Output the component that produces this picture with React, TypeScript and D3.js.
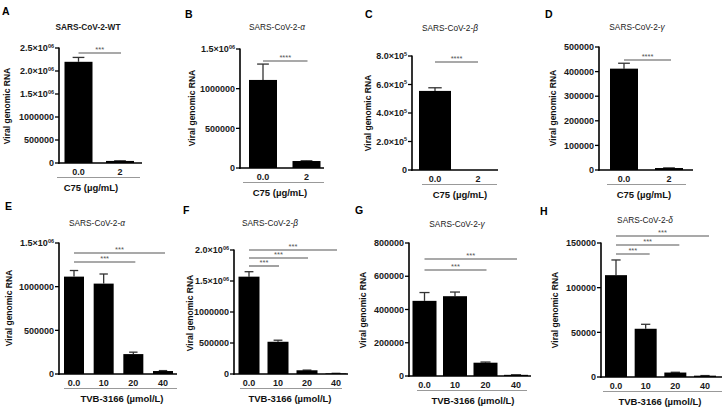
import React from "react";
import * as d3 from "d3";

// ---------- DATA ----------
const catsC75 = ["0.0", "2"];
const catsTVB = ["0.0", "10", "20", "40"];

const wtC75Mean = [2200000, 45000];
const wtC75Err = [95000, 3000];
const alphaC75Mean = [1110000, 88000];
const alphaC75Err = [200000, 3000];
const betaC75Mean = [555000, 0];
const betaC75Err = [22000, 0];
const gammaC75Mean = [412000, 8000];
const gammaC75Err = [22000, 600];

const alphaTVBMean = [1115000, 1035000, 228000, 34000];
const alphaTVBErr = [70000, 110000, 22000, 5000];
const betaTVBMean = [1570000, 520000, 60000, 10000];
const betaTVBErr = [80000, 25000, 3000, 1000];
const gammaTVBMean = [452000, 480000, 80000, 7000];
const gammaTVBErr = [50000, 25000, 4000, 500];
const deltaTVBMean = [114000, 54000, 5000, 1500];
const deltaTVBErr = [17000, 5000, 300, 100];

const ticksA = [0, 500000, 1000000, 1500000, 2000000, 2500000];
const labelsA = ["0", "500000", "1000000", "1.5×10^06", "2.0×10^06", "2.5×10^06"];
const ticksB = [0, 500000, 1000000, 1500000];
const labelsB = ["0", "500000", "1000000", "1.5×10^06"];
const ticksC = [0, 200000, 400000, 600000, 800000];
const labelsC = ["0", "2.0×10^5", "4.0×10^5", "6.0×10^5", "8.0×10^5"];
const ticksD = [0, 100000, 200000, 300000, 400000, 500000];
const labelsD = ["0", "100000", "200000", "300000", "400000", "500000"];
const ticksE = [0, 500000, 1000000, 1500000];
const labelsE = ["0", "500000", "1000000", "1.5×10^06"];
const ticksF = [0, 500000, 1000000, 1500000, 2000000];
const labelsF = ["0", "500000", "1000000", "1.5×10^06", "2.0×10^06"];
const ticksG = [0, 200000, 400000, 600000, 800000];
const labelsG = ["0", "200000", "400000", "600000", "800000"];
const ticksH = [0, 50000, 100000, 150000];
const labelsH = ["0", "50000", "100000", "150000"];

// comparisons: [fromIndex, toIndex, label]
const sigC75A = [[0, 1, "***"]];
const sigC75 = [[0, 1, "****"]];
const sigE = [[0, 3, "***"], [0, 2, "***"]];
const sigF = [[0, 3, "***"], [0, 2, "***"], [0, 1, "***"]];
const sigG = [[0, 3, "***"], [0, 2, "***"]];
const sigH = [[0, 3, "***"], [0, 2, "***"], [0, 1, "***"]];

const titles = ["SARS-CoV-2-WT", "SARS-CoV-2-", "SARS-CoV-2-", "SARS-CoV-2-", "SARS-CoV-2-", "SARS-CoV-2-", "SARS-CoV-2-", "SARS-CoV-2-"];
const greek = ["", "α", "β", "γ", "α", "β", "γ", "δ"];
const letters = ["A", "B", "C", "D", "E", "F", "G", "H"];
const xLabelC75 = "C75 (µg/mL)";
const xLabelTVB = "TVB-3166  (µmol/L)";
const yLabel = "Viral genomic RNA";

// ---------- LAYOUT ----------
type Layout = {
  axisX: number; axisEnd: number; yBottom: number; yTop: number;
  c0: number; cN: number; barW: number;
  grayL: number; grayR: number;
  xlabX: number; titleX: number; titleY: number;
  letterX: number; letterY: number; ylabX: number; ylabY: number;
  sigTop: number; sigGap: number; sigEndPad: number;
};

const panels = [
  { cats: catsC75, mean: wtC75Mean, err: wtC75Err, ticks: ticksA, labels: labelsA, sig: sigC75A, xlab: xLabelC75, titleBold: true,
    L: { axisX: 59, axisEnd: 142, yBottom: 163, yTop: 48, c0: 78.5, cN: 120, barW: 28, grayL: 57, grayR: 140, xlabX: 91, titleX: 88, titleY: 30, letterX: 2, letterY: 15, ylabX: 10, ylabY: 106, sigTop: 53, sigGap: 9, sigEndPad: 1 } },
  { cats: catsC75, mean: alphaC75Mean, err: alphaC75Err, ticks: ticksB, labels: labelsB, sig: sigC75, xlab: xLabelC75, titleBold: false,
    L: { axisX: 240, axisEnd: 324, yBottom: 168, yTop: 49, c0: 263, cN: 306.5, barW: 28, grayL: 243, grayR: 324, xlabX: 280, titleX: 277, titleY: 30, letterX: 185, letterY: 18, ylabX: 195, ylabY: 108, sigTop: 61, sigGap: 9, sigEndPad: 1 } },
  { cats: catsC75, mean: betaC75Mean, err: betaC75Err, ticks: ticksC, labels: labelsC, sig: sigC75, xlab: xLabelC75, titleBold: false,
    L: { axisX: 412, axisEnd: 498, yBottom: 170, yTop: 56, c0: 435, cN: 478, barW: 32, grayL: 422, grayR: 497, xlabX: 460, titleX: 450, titleY: 31, letterX: 365, letterY: 18, ylabX: 371, ylabY: 113, sigTop: 62, sigGap: 9, sigEndPad: 0 } },
  { cats: catsC75, mean: gammaC75Mean, err: gammaC75Err, ticks: ticksD, labels: labelsD, sig: sigC75, xlab: xLabelC75, titleBold: false,
    L: { axisX: 599, axisEnd: 693, yBottom: 170, yTop: 47, c0: 624, cN: 669, barW: 28, grayL: 607, grayR: 686, xlabX: 644, titleX: 637, titleY: 30, letterX: 545, letterY: 18, ylabX: 556, ylabY: 108, sigTop: 60, sigGap: 9, sigEndPad: 2 } },
  { cats: catsTVB, mean: alphaTVBMean, err: alphaTVBErr, ticks: ticksE, labels: labelsE, sig: sigE, xlab: xLabelTVB, titleBold: false,
    L: { axisX: 59, axisEnd: 177, yBottom: 374, yTop: 243, c0: 74, cN: 163, barW: 20, grayL: 64, grayR: 177, xlabX: 122, titleX: 97, titleY: 226, letterX: 5, letterY: 210, ylabX: 12, ylabY: 308, sigTop: 253, sigGap: 9, sigEndPad: 2 } },
  { cats: catsTVB, mean: betaTVBMean, err: betaTVBErr, ticks: ticksF, labels: labelsF, sig: sigF, xlab: xLabelTVB, titleBold: false,
    L: { axisX: 234, axisEnd: 348, yBottom: 374, yTop: 250, c0: 249, cN: 336, barW: 21, grayL: 240, grayR: 342, xlabX: 290, titleX: 270, titleY: 226, letterX: 183, letterY: 214, ylabX: 193, ylabY: 313, sigTop: 250, sigGap: 8, sigEndPad: 1 } },
  { cats: catsTVB, mean: gammaTVBMean, err: gammaTVBErr, ticks: ticksG, labels: labelsG, sig: sigG, xlab: xLabelTVB, titleBold: false,
    L: { axisX: 409, axisEnd: 531, yBottom: 376, yTop: 243, c0: 424.5, cN: 516, barW: 24, grayL: 417, grayR: 527, xlabX: 473, titleX: 457, titleY: 227, letterX: 355, letterY: 214, ylabX: 366, ylabY: 310, sigTop: 259, sigGap: 11, sigEndPad: 1 } },
  { cats: catsTVB, mean: deltaTVBMean, err: deltaTVBErr, ticks: ticksH, labels: labelsH, sig: sigH, xlab: xLabelTVB, titleBold: false,
    L: { axisX: 601, axisEnd: 722, yBottom: 377, yTop: 243, c0: 616, cN: 705, barW: 22, grayL: 603, grayR: 722, xlabX: 660, titleX: 645, titleY: 223, letterX: 540, letterY: 215, ylabX: 558, ylabY: 310, sigTop: 236, sigGap: 9, sigEndPad: 4 } },
];

const FONT = "Arial, 'Liberation Sans', Helvetica, sans-serif";

function TickLabel({ x, y, text }: { x: number; y: number; text: string }) {
  const parts = text.split("^");
  return (
    <text x={x} y={y} textAnchor="end" fontSize={9} fontWeight="bold" fontFamily={FONT} fill="#1a1a1a">
      {parts[0]}
      {parts.length > 1 && (
        <tspan dy={-3.5} fontSize={5.5}>{parts[1]}</tspan>
      )}
    </text>
  );
}

function Panel({ p, i }: { p: any; i: number }) {
  const L: Layout = p.L;
  const y = d3.scaleLinear().domain([0, p.ticks[p.ticks.length - 1]]).range([L.yBottom, L.yTop]);
  const x = d3.scalePoint<string>().domain(p.cats).range([L.c0, L.cN]);
  const capW = L.barW * 0.42;
  return (
    <g>
      <text x={L.letterX} y={L.letterY} fontSize={10.5} fontWeight="bold" fontFamily={FONT} fill="#000">{letters[i]}</text>
      <text x={L.titleX} y={L.titleY} textAnchor="middle" fontSize={8.3} fontWeight={p.titleBold ? "bold" : "normal"} fontFamily={FONT} fill="#1a1a1a">
        {titles[i]}
        {greek[i] && <tspan fontStyle="italic">{greek[i]}</tspan>}
      </text>
      <text transform={`translate(${L.ylabX},${L.ylabY}) rotate(-90)`} textAnchor="middle" fontSize={8.5} fontWeight="bold" fontFamily={FONT} fill="#111">{yLabel}</text>
      {/* bars */}
      {p.cats.map((c: string, k: number) => {
        const cx = x(c)!;
        const top = y(p.mean[k]);
        const eTop = y(p.mean[k] + p.err[k]);
        return (
          <g key={c}>
            {p.err[k] > 0 && (
              <g stroke="#333" strokeWidth={1.3}>
                <line x1={cx} x2={cx} y1={top} y2={eTop} />
                <line x1={cx - capW / 2} x2={cx + capW / 2} y1={eTop} y2={eTop} />
              </g>
            )}
            {p.mean[k] > 0 && (
              <rect x={cx - L.barW / 2} y={top} width={L.barW} height={L.yBottom - top} fill="#000" />
            )}
          </g>
        );
      })}
      {/* y axis */}
      <line x1={L.axisX} x2={L.axisX} y1={L.yTop - 0.5} y2={L.yBottom + 0.75} stroke="#000" strokeWidth={1.6} />
      {p.ticks.map((t: number, k: number) => (
        <g key={t}>
          <line x1={L.axisX - 4} x2={L.axisX} y1={y(t)} y2={y(t)} stroke="#000" strokeWidth={1.3} />
          <TickLabel x={L.axisX - 5} y={y(t) + 3.2} text={p.labels[k]} />
        </g>
      ))}
      {/* x axis */}
      <line x1={L.axisX - 0.8} x2={L.axisEnd} y1={L.yBottom} y2={L.yBottom} stroke="#000" strokeWidth={1.6} />
      {p.cats.map((c: string) => (
        <text key={c} x={x(c)!} y={L.yBottom + 11.5} textAnchor="middle" fontSize={9} fontWeight="bold" fontFamily={FONT} fill="#1a1a1a">{c}</text>
      ))}
      <line x1={L.grayL} x2={L.grayR} y1={L.yBottom + 14.5} y2={L.yBottom + 14.5} stroke="#999" strokeWidth={1} />
      <text x={L.xlabX} y={L.yBottom + 28} textAnchor="middle" fontSize={9.5} fontWeight="bold" fontFamily={FONT} fill="#111">{p.xlab}</text>
      {/* significance */}
      {p.sig.map((s: any, k: number) => {
        const x1 = x(p.cats[s[0]])!;
        const x2 = x(p.cats[s[1]])! + L.sigEndPad;
        const yy = L.sigTop + k * L.sigGap;
        return (
          <g key={k}>
            <line x1={x1} x2={x2} y1={yy} y2={yy} stroke="#555" strokeWidth={1.1} />
            <text x={(x1 + x2) / 2} y={yy - 1.5} textAnchor="middle" fontSize={7.5} fontFamily={FONT} fill="#555">{s[2]}</text>
          </g>
        );
      })}
    </g>
  );
}

export default function App() {
  return (
    <svg width={723} height={408} style={{ position: "absolute", left: 0, top: 0, background: "#fff" }}>
      <rect width={723} height={408} fill="#fff" />
      {panels.map((p, i) => <Panel key={i} p={p} i={i} />)}
    </svg>
  );
}
